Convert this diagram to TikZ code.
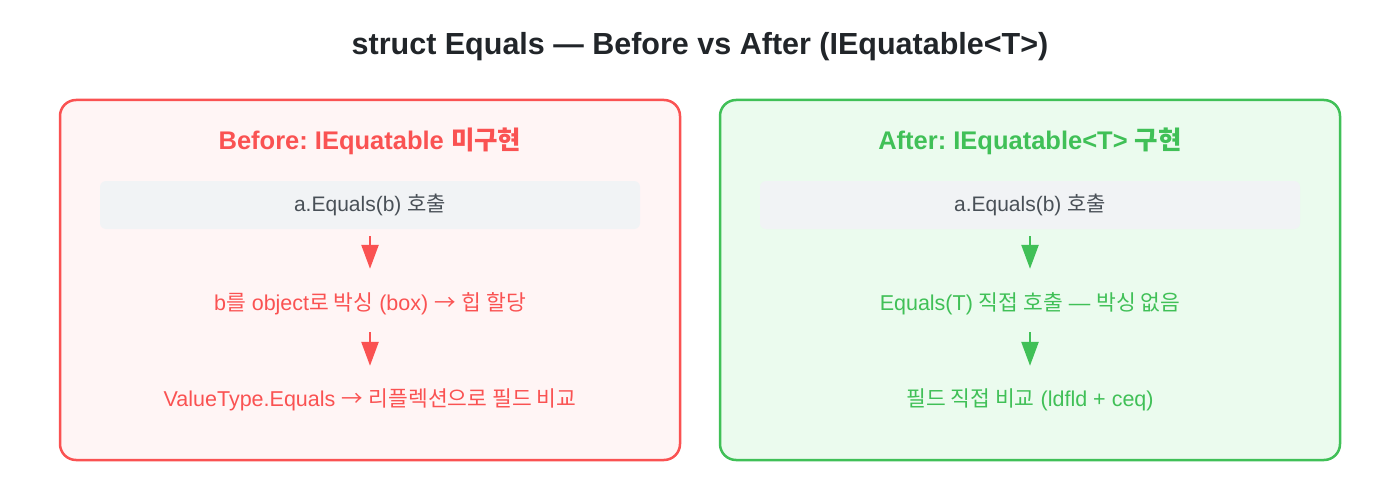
\documentclass[tikz,border=0pt]{standalone}
\usepackage{fontspec}
\setmainfont{Liberation Sans}
\newfontfamily\kr{Noto Sans CJK KR}
\usetikzlibrary{arrows.meta}
\frenchspacing
\definecolor{ink}{HTML}{212529}
\definecolor{redline}{HTML}{FA5252}
\definecolor{redfill}{HTML}{FFF5F5}
\definecolor{greenline}{HTML}{40C057}
\definecolor{greenfill}{HTML}{EBFBEE}
\definecolor{callfill}{HTML}{F1F3F5}
\definecolor{calltext}{HTML}{495057}
\tikzset{
  panel/.style={draw=#1line, fill=#1fill, line width=2.5pt, rounded corners=16pt,
    minimum width=620pt, minimum height=360pt, inner sep=0pt},
  heading/.style={text=#1line, font=\bfseries\fontsize{25.5}{30}\selectfont},
  callbox/.style={fill=callfill, text=calltext, rounded corners=6pt,
    minimum width=540pt, minimum height=48pt, inner sep=0pt,
    font=\fontsize{21}{25}\selectfont},
  stepline/.style={text=#1line, font=\fontsize{21.5}{26}\selectfont,
    minimum height=24pt, inner sep=0pt, text height=15pt, text depth=4pt},
  flow/.style={draw=#1line, line width=2.5pt, -{Triangle[width=17pt,length=24pt]}}
}
\begin{document}
\begin{tikzpicture}[x=1pt, y=-1pt]
    \useasboundingbox (0,0) rectangle (1400,500);
    \def\l{370}
    \def\r{1030}
    \node (T) at (700,47) {\textcolor{ink}{\bfseries\fontsize{30.5}{36}\selectfont struct Equals — Before vs After (IEquatable<T>)}};
    % before
    \node [panel=red] (L0) at (\l,280) {};
    \node [heading=red] (L1) at (\l,141) {Before: IEquatable {\kr 미구현}};
    \node [callbox] (L2) at (\l,205) {a.Equals(b) {\kr 호출}};
    \node [stepline=red] (L3) at (\l,305) {b{\kr 를} object{\kr 로 박싱} (box) {\kr →} {\kr 힙 할당}};
    \node [stepline=red] (L4) at (\l,401) {ValueType.Equals {\kr →} {\kr 리플렉션으로 필드 비교}};
    \path (L2) edge [flow=red, shorten <=7pt, shorten >=24pt] (L3);
    \path (L3) edge [flow=red, shorten <=15pt, shorten >=23pt] (L4);
    % after
    \node [panel=green] (R0) at (\r,280) {};
    \node [heading=green] (R1) at (\r,141) {After: IEquatable<T> {\kr 구현}};
    \node [callbox] (R2) at (\r,205) {a.Equals(b) {\kr 호출}};
    \node [stepline=green] (R3) at (\r,305) {Equals(T) {\kr 직접 호출} — {\kr 박싱 없음}};
    \node [stepline=green] (R4) at (\r,401) {{\kr 필드 직접 비교} (ldfld + ceq)};
    \path (R2) edge [flow=green, shorten <=7pt, shorten >=24pt] (R3);
    \path (R3) edge [flow=green, shorten <=15pt, shorten >=23pt] (R4);
  \end{tikzpicture}
\end{document}
